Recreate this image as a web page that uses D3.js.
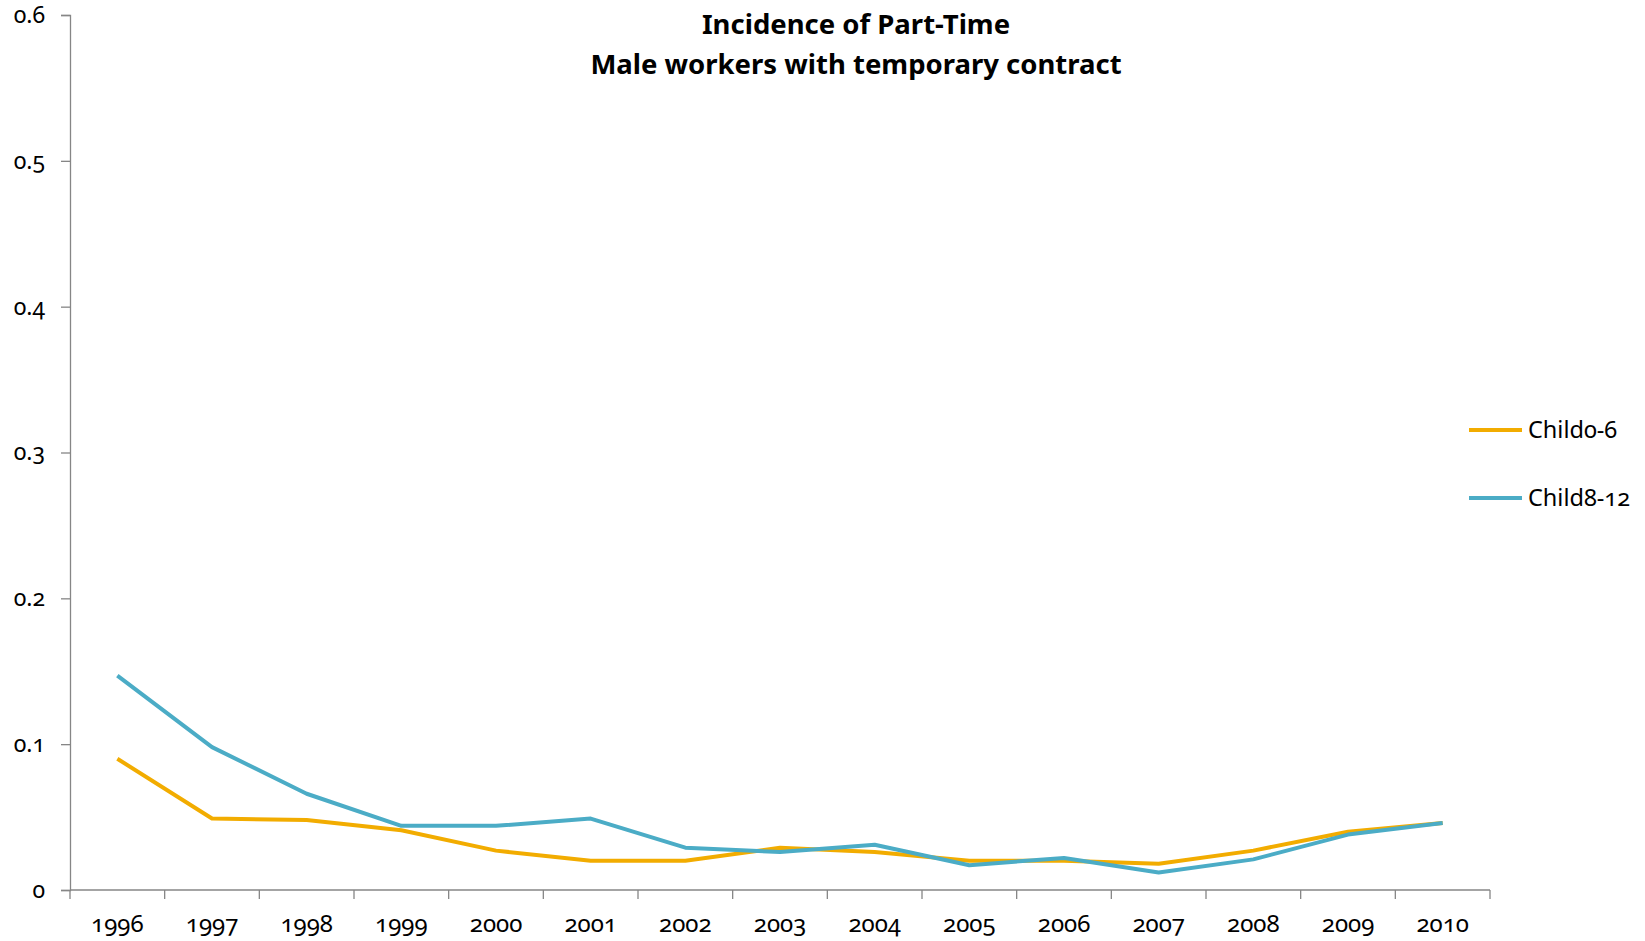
<!DOCTYPE html>
<html>
<head>
<meta charset="utf-8">
<script src="https://cdn.jsdelivr.net/npm/d3@7"></script>
<style>
  body { margin: 0; background: #fff; }
  svg text { font-family: "Noto Sans", "Open Sans", sans-serif; font-variant-numeric: oldstyle-nums; fill: #000; }
  .axis path, .axis line { stroke: #868686; stroke-width: 1.3; }
</style>
</head>
<body>
<svg id="chart" width="1645" height="941"></svg>
<script>
// chart data
var years = ["1996","1997","1998","1999","2000","2001","2002","2003","2004","2005","2006","2007","2008","2009","2010"];
var child0to6 = [0.090, 0.049, 0.048, 0.041, 0.027, 0.020, 0.020, 0.029, 0.026, 0.020, 0.020, 0.018, 0.027, 0.040, 0.046];
var child8to12 = [0.147, 0.098, 0.066, 0.044, 0.044, 0.049, 0.029, 0.026, 0.031, 0.017, 0.022, 0.012, 0.021, 0.038, 0.046];
var yTicks = [0, 0.1, 0.2, 0.3, 0.4, 0.5, 0.6];
var seriesNames = ["Child0-6", "Child8-12"];
var seriesColors = ["#F2AC00", "#4BACC6"];

var svg = d3.select("#chart");

var x = d3.scaleBand().domain(years).range([70, 1490]).padding(0);
var y = d3.scaleLinear().domain([0, 0.6]).range([890, 15]);

// y axis
svg.append("g")
    .attr("class", "axis")
    .attr("transform", "translate(70,0)")
    .call(d3.axisLeft(y).tickValues(yTicks).tickSize(9).tickPadding(16)
        .tickFormat(function(d) { return d === 0 ? "0" : d3.format(".1f")(d); }))
    .call(function(g) {
        g.selectAll("text").style("font-size", "23px").attr("font-family", null);
    });

// x axis: labels at band centres, tick marks at band edges
var xAxis = svg.append("g")
    .attr("class", "axis")
    .attr("transform", "translate(0,890)")
    .call(d3.axisBottom(x).tickSize(0).tickPadding(25).tickSizeOuter(0));
xAxis.selectAll("text").style("font-size", "24px").attr("font-family", null);
xAxis.select(".domain").attr("d", "M" + x.range()[0] + ",0H" + x.range()[1]);

var edges = years.map(function(d) { return x(d); }).concat([x.range()[1]]);
xAxis.selectAll(".edge")
    .data(edges)
    .enter()
    .append("line")
    .attr("class", "edge")
    .attr("x1", function(d) { return d; })
    .attr("x2", function(d) { return d; })
    .attr("y1", 0)
    .attr("y2", 9);

// lines
var line = d3.line()
    .x(function(d, i) { return x(years[i]) + x.bandwidth() / 2; })
    .y(function(d) { return y(d); });

[child0to6, child8to12].forEach(function(vals, i) {
    svg.append("path")
        .datum(vals)
        .attr("fill", "none")
        .attr("stroke", seriesColors[i])
        .attr("stroke-width", 4)
        .attr("stroke-linejoin", "round")
        .attr("d", line);
});

// legend
var legend = svg.append("g");
seriesNames.forEach(function(name, i) {
    var ly = 430 + i * 68;
    legend.append("line")
        .attr("x1", 1469).attr("x2", 1522)
        .attr("y1", ly).attr("y2", ly)
        .attr("stroke", seriesColors[i])
        .attr("stroke-width", 4);
    legend.append("text")
        .attr("x", 1528)
        .attr("y", ly)
        .attr("dy", "0.35em")
        .style("font-size", "23.5px")
        .text(name);
});

// title
svg.append("text")
    .attr("text-anchor", "middle")
    .attr("x", 856)
    .attr("y", 34)
    .style("font-size", "27.5px")
    .style("font-weight", "bold")
    .text("Incidence of Part-Time");
svg.append("text")
    .attr("text-anchor", "middle")
    .attr("x", 856)
    .attr("y", 74)
    .style("font-size", "27.5px")
    .style("font-weight", "bold")
    .text("Male workers with temporary contract");
</script>
</body>
</html>
